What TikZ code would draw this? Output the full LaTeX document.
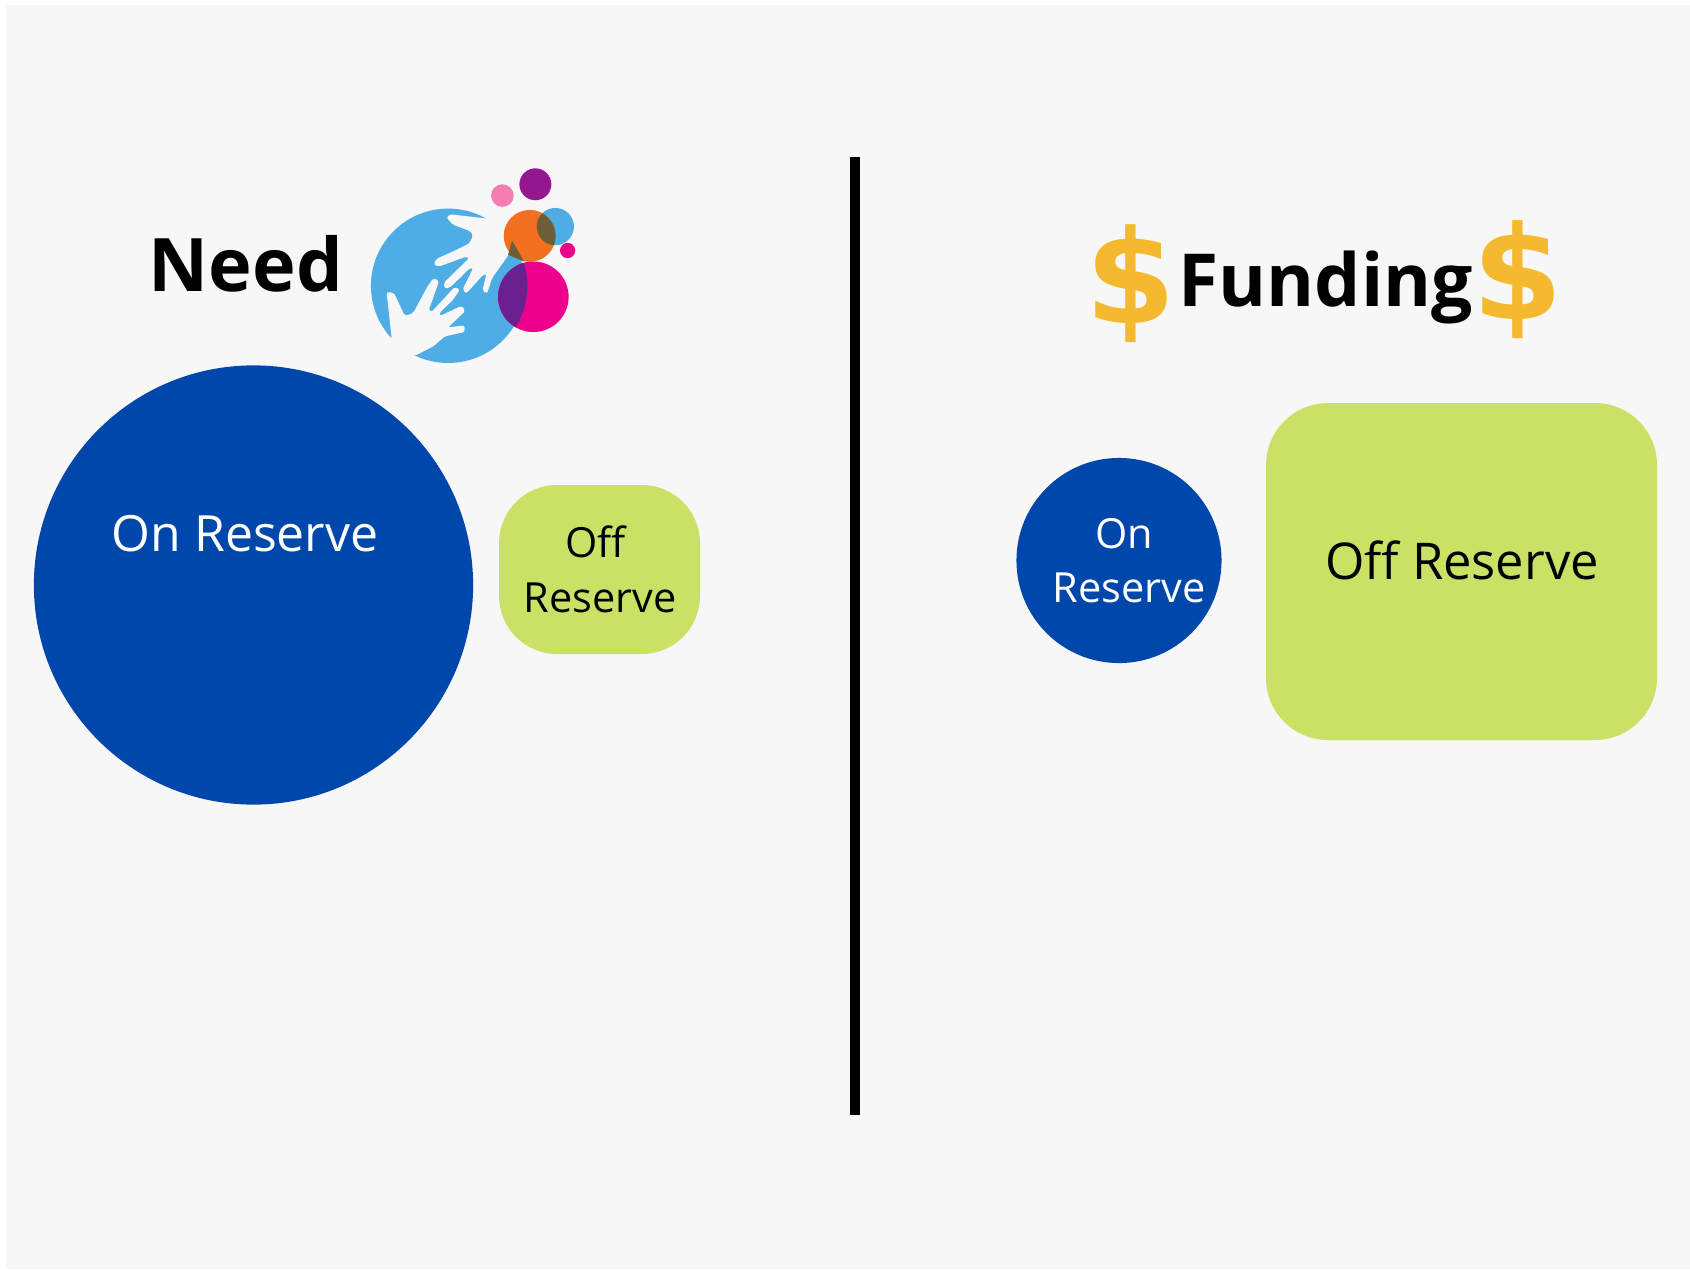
\documentclass[tikz,border=0pt]{standalone}
\usepackage{fontspec}
\setmainfont{Open Sans}
\newfontfamily\dollarfont{DejaVu Sans}
\definecolor{pagegrey}{HTML}{F7F7F7}
\definecolor{resblue}{HTML}{0047AB}
\definecolor{reslime}{HTML}{C9E265}
\definecolor{dollargold}{HTML}{F4B92F}
\definecolor{logoblue}{HTML}{4FADE6}
\definecolor{logoorange}{HTML}{F37021}
\definecolor{logomagenta}{HTML}{EC008C}
\definecolor{logopurple}{HTML}{93188F}
\definecolor{logopink}{HTML}{F47DB1}
\definecolor{logoviolet}{HTML}{6B2090}
\definecolor{logoolive}{HTML}{6B5F3A}
\tikzset{
 reslabel/.style={align=center,inner sep=0pt,font=\fontsize{14.2}{15.6}\selectfont},
 headlabel/.style={inner sep=0pt,font=\fontsize{21}{26}\selectfont\bfseries},
 dollar/.style={inner sep=0pt,text=dollargold,font=\dollarfont\fontsize{37}{40}\selectfont\bfseries},
 hand/.style={fill=pagegrey,draw=none,rounded corners=0.02cm}
}
\begin{document}
\begin{tikzpicture}[x=0.01cm,y=-0.01cm]
 \useasboundingbox (0,0) rectangle (1690,1269);
 \fill[pagegrey] (6,5) rectangle (1690,1269);
 % left half
 \node[circle,fill=resblue,minimum size=4.39cm,inner sep=0pt] (onneed) at (253.5,585) {};
 \node[reslabel,text=white] (onneedtext) at (245,533.5) {On Reserve};
 \fill[reslime,rounded corners=0.58cm] (499,485) rectangle (700,654);
 \node[reslabel,font=\fontsize{11.8}{15.8}\selectfont] (offneed) at (600,569.5) {Off\hspace*{0.086cm}\\Reserve};
 \node[headlabel,anchor=base west] (need) at (148,291) {Need};
 % logo
 \begin{scope}[shift={(340,150)},x=0.003333cm,y=-0.003333cm]
  \fill[logoblue] (325,408) circle (232);
  % upper hand
  \begin{scope}[shift={(90,165)}]
  \fill[hand] (360,42) -- (240,28) -- (230,38) -- (250,60) -- (300,78) -- (310,90) -- (300,115) -- (260,135)
   -- (198,163) -- (192,180) -- (208,185) -- (290,155) -- (298,160) -- (221,235) -- (226,252) -- (242,247)
   -- (300,190) -- (310,190) -- (278,255) -- (290,266) -- (340,210) -- (350,208) -- (338,258) -- (352,266)
   -- (367,220) -- (420,145) -- (470,100) -- (400,10) -- cycle;
  % lower hand
  \fill[hand] (50,262) -- (65,397) -- (60,460) -- (138,452) -- (190,425) -- (225,395) -- (285,382) -- (284,362)
   -- (235,368) -- (287,318) -- (275,303) -- (210,334) -- (208,325) -- (250,285) -- (270,255) -- (255,246)
   -- (185,322) -- (176,318) -- (195,265) -- (208,228) -- (190,220) -- (170,250) -- (130,325) -- (105,334)
   -- (72,264) -- cycle;
  \end{scope}
  \fill[logopurple] (587,103) circle (48);
  \fill[logopink] (488,137) circle (34);
  \fill[logoblue] (647,230) circle (56);
  \fill[logoorange] (570,258) circle (78);
  \begin{scope}
   \clip (647,230) circle (56);
   \fill[logoolive] (570,258) circle (78);
  \end{scope}
  \fill[logomagenta] (684,302) circle (23);
  \fill[logomagenta] (581,441) circle (106);
  \begin{scope}
   \clip (325,408) circle (238);
   \fill[logoviolet] (581,441) circle (106);
  \end{scope}
  \fill[logoolive] (517,272) -- (553,335) -- (505,315) -- cycle;
 \end{scope}
 % divider
 \fill[black] (850,157) rectangle (860,1115);
 % right half
 \node[headlabel,anchor=base west,font=\fontsize{20.8}{24}\selectfont\bfseries] (funding) at (1178,306) {Funding};
 \node[dollar] (dollarl) at (1131,284) {\$};
 \node[dollar] (dollarr) at (1518,280) {\$};
 \node[circle,fill=resblue,minimum size=2.05cm,inner sep=0pt] (onfund) at (1119,560.5) {};
 \node[reslabel,text=white,font=\fontsize{11.8}{15.4}\selectfont] (onfundtext) at (1129,560.5) {On\hspace*{0.1cm}\\Reserve};
 \fill[reslime,rounded corners=0.62cm] (1266,403) rectangle (1657,740);
 \node[reslabel,font=\fontsize{14.4}{15.6}\selectfont] (offfund) at (1462,560) {Off Reserve};
\end{tikzpicture}
\end{document}
